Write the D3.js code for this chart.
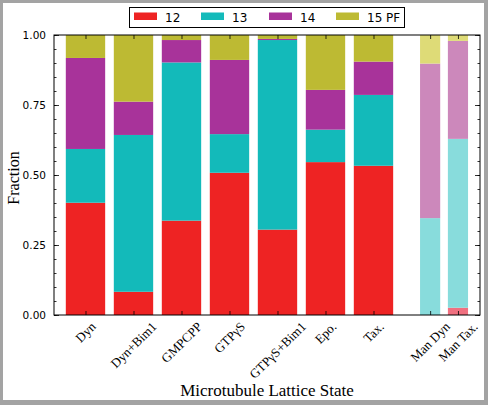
<!DOCTYPE html>
<html><head><meta charset="utf-8">
<script src="https://cdn.jsdelivr.net/npm/d3@7"></script>
<style>body{margin:0;background:#fff}svg{display:block}</style>
</head><body>
<svg id="c" width="488" height="405"></svg>
<script>
const categories = ["Dyn","Dyn+Bim1","GMPCPP","GTPγS","GTPγS+Bim1","Epo.","Tax.","Man Dyn","Man Tax."];
const positions = [0,1,2,3,4,5,6,7.18,7.76];
const widths = [0.82,0.82,0.82,0.82,0.82,0.82,0.82,0.42,0.42];
const seriesNames = ["12","13","14","15 PF"];
const pf12 = [0.401,0.083,0.337,0.508,0.305,0.546,0.533,0.000,0.026];
const pf13 = [0.192,0.560,0.565,0.138,0.677,0.116,0.253,0.346,0.603];
const pf14 = [0.325,0.119,0.080,0.265,0.004,0.142,0.119,0.552,0.350];
const pf15 = [0.082,0.238,0.018,0.089,0.014,0.196,0.095,0.102,0.021];
const yTicks = [0,0.25,0.5,0.75,1.0];
const colors = ["#ee2323","#13baba","#a8339a","#bdba33"];
const lightColors = ["#f07080","#88dcdc","#cc88bb","#dedb77"];

const svg = d3.select("#c");
svg.append("rect").attr("width",488).attr("height",405).attr("fill","#a3a3a3");
svg.append("rect").attr("x",3).attr("y",3).attr("width",481).attr("height",397).attr("fill","#fff");

const L=54,R=480,T=35,B=315;
const x = d3.scaleLinear().domain([-0.656,8.219]).range([L,R]);
const y = d3.scaleLinear().domain([0,1]).range([B,T]);

const table = categories.map((c,i)=>({cat:c,pos:positions[i],w:widths[i],"12":pf12[i],"13":pf13[i],"14":pf14[i],"15 PF":pf15[i],man:i>=7}));
const stack = d3.stack().keys(seriesNames)(table);

const g = svg.append("g");
stack.forEach((layer,k)=>{
  g.selectAll(null).data(layer).enter().append("rect")
    .attr("x",d=>x(d.data.pos - d.data.w/2))
    .attr("width",d=>x(d.data.pos + d.data.w/2)-x(d.data.pos - d.data.w/2))
    .attr("y",d=>y(d[1]))
    .attr("height",d=>Math.max(0,y(d[0])-y(d[1])))
    .attr("fill",d=>d.data.man?lightColors[k]:colors[k]);
});

// axes
const yMinor = d3.range(0,1.0001,0.05);
const axL = d3.axisLeft(y).tickValues(yMinor).tickSize(-2.5).tickFormat("");
const axLM = d3.axisLeft(y).tickValues(yTicks).tickSize(-5).tickPadding(8).tickFormat(d3.format(".2f"));
const axR = d3.axisRight(y).tickValues(yMinor).tickSize(-2.5).tickFormat("");
const axRM = d3.axisRight(y).tickValues(yTicks).tickSize(-5).tickFormat("");
const axB = d3.axisBottom(x).tickValues(positions).tickSize(-4).tickFormat("");
const axT = d3.axisTop(x).tickValues(positions).tickSize(-4).tickFormat("");
function style(sel){sel.select(".domain").remove();sel.selectAll("line").attr("stroke","#000").attr("stroke-width",0.8);}
svg.append("g").attr("transform",`translate(${L},0)`).call(axL).call(style);
const gl = svg.append("g").attr("transform",`translate(${L},0)`).call(axLM).call(style);
gl.selectAll("text").attr("font-family","DejaVu Sans").attr("font-size",10.5).attr("fill","#000");
svg.append("g").attr("transform",`translate(${R},0)`).call(axR).call(style);
svg.append("g").attr("transform",`translate(${R},0)`).call(axRM).call(style);
svg.append("g").attr("transform",`translate(0,${B})`).call(axB).call(style);
svg.append("g").attr("transform",`translate(0,${T})`).call(axT).call(style);
svg.append("rect").attr("x",L).attr("y",T).attr("width",R-L).attr("height",B-T)
  .attr("fill","none").attr("stroke","#000").attr("stroke-width",1);

// x tick labels rotated
positions.forEach((p,i)=>{
  const t = svg.append("text").text(categories[i]).attr("font-family","Liberation Serif")
    .attr("font-size",13).attr("text-anchor","middle").attr("fill","#000");
  const w = t.node().getComputedTextLength();
  const h = 9;
  const half = (w+h)*Math.SQRT1_2/2;
  const cx = x(p), cy = 321 + half;
  t.attr("transform",`translate(${cx},${cy}) rotate(-45)`).attr("dy","0.35em");
});

svg.append("text").text("Microtubule Lattice State").attr("x",267).attr("y",396)
  .attr("text-anchor","middle").attr("font-family","Liberation Serif").attr("font-size",17).attr("fill","#000");
svg.append("text").text("Fraction").attr("transform","translate(19,178) rotate(-90)")
  .attr("text-anchor","middle").attr("font-family","Liberation Serif").attr("font-size",16).attr("fill","#000");

// legend
const lg = svg.append("g");
lg.append("rect").attr("x",129.5).attr("y",7.5).attr("width",275).attr("height",20).attr("fill","#fff").attr("stroke","#000").attr("stroke-width",1);
const legX = [134,201,269,336];
seriesNames.forEach((s,k)=>{
  lg.append("rect").attr("x",legX[k]).attr("y",12.5).attr("width",23).attr("height",7.5).attr("fill",colors[k]);
  lg.append("text").text(s).attr("x",legX[k]+31).attr("y",22).attr("font-family","DejaVu Sans").attr("font-size",12).attr("fill","#000");
});
</script>
</body></html>
